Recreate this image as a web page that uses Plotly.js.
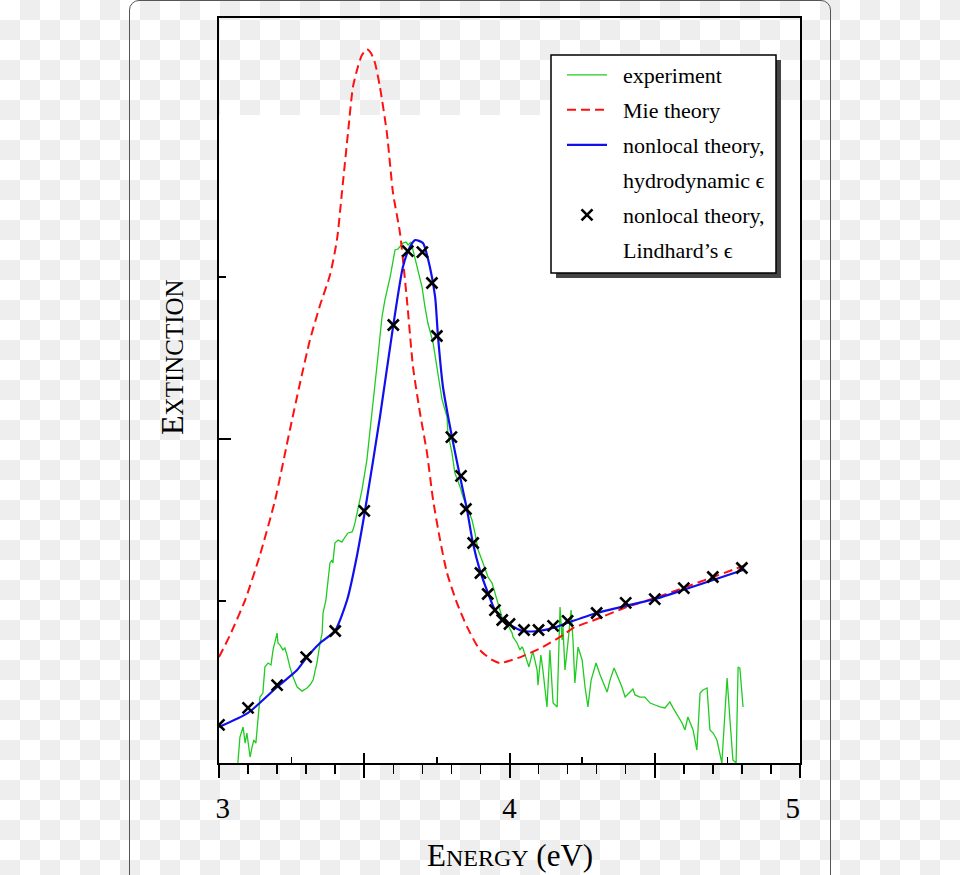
<!DOCTYPE html>
<html>
<head>
<meta charset="utf-8">
<script src="https://cdn.plot.ly/plotly-3.0.1.min.js"></script>
<style>
  html, body { margin: 0; padding: 0; }
  body {
    width: 960px; height: 875px; overflow: hidden; position: relative;
    background: repeating-conic-gradient(#eeeeee 0 25%, #ffffff 0 50%) 0 0 / 40px 40px;
  }
  #panel {
    position: absolute; left: 129px; top: 0px; width: 702px; height: 920px;
    border: 1.5px solid #555; border-radius: 10px; box-sizing: border-box;
  }
  #chart { position: absolute; left: 0; top: 0; width: 960px; height: 875px; }
</style>
</head>
<body>
<div id="panel"></div>
<div id="chart"></div>
<script>
// ---- experiment (green) ----
const expEnergy = [3.065,3.072,3.083,3.090,3.096,3.107,3.114,3.120,3.127,3.134,3.141,3.151,3.158,3.169,3.179,3.186,3.193,3.200,3.203,3.210,3.220,3.227,3.234,3.244,3.255,3.269,3.286,3.303,3.313,3.324,3.330,3.337,3.348,3.355,3.358,3.368,3.382,3.389,3.392,3.399,3.410,3.423,3.434,3.444,3.458,3.461,3.468,3.478,3.492,3.509,3.527,3.537,3.547,3.561,3.571,3.589,3.606,3.616,3.633,3.644,3.651,3.661,3.668,3.682,3.699,3.709,3.719,3.737,3.754,3.768,3.785,3.788,3.802,3.812,3.830,3.840,3.854,3.871,3.881,3.892,3.905,3.916,3.926,3.940,3.950,3.960,3.974,3.991,4.009,4.012,4.026,4.036,4.043,4.046,4.060,4.067,4.077,4.081,4.095,4.098,4.108,4.115,4.129,4.139,4.150,4.164,4.174,4.181,4.184,4.191,4.201,4.212,4.219,4.225,4.236,4.250,4.260,4.270,4.281,4.298,4.312,4.322,4.336,4.346,4.360,4.373,4.387,4.398,4.411,4.425,4.432,4.449,4.466,4.484,4.501,4.518,4.535,4.552,4.563,4.580,4.594,4.604,4.614,4.632,4.645,4.656,4.666,4.680,4.690,4.701,4.714,4.731,4.742,4.749,4.759,4.769,4.780,4.787,4.793,4.804];
const expExtinction = [0.000,0.160,0.222,0.123,0.185,0.037,0.099,0.142,0.123,0.265,0.407,0.432,0.593,0.617,0.605,0.698,0.759,0.802,0.741,0.728,0.698,0.710,0.667,0.593,0.531,0.469,0.444,0.463,0.481,0.512,0.562,0.617,0.741,0.802,0.926,1.006,1.235,1.253,1.235,1.358,1.377,1.364,1.395,1.420,1.426,1.438,1.481,1.562,1.685,1.870,2.160,2.321,2.506,2.753,2.858,3.000,3.167,3.173,3.210,3.216,3.198,3.216,3.167,3.062,2.938,2.815,2.716,2.593,2.383,2.241,2.136,2.037,1.914,1.790,1.704,1.642,1.580,1.500,1.420,1.315,1.253,1.191,1.148,1.111,1.049,0.988,0.901,0.864,0.802,0.778,0.741,0.698,0.716,0.710,0.636,0.593,0.667,0.685,0.574,0.481,0.667,0.574,0.346,0.698,0.370,0.346,0.963,0.759,0.840,0.574,0.741,0.944,0.741,0.494,0.716,0.636,0.469,0.346,0.512,0.617,0.543,0.500,0.438,0.512,0.586,0.531,0.469,0.407,0.432,0.457,0.420,0.407,0.407,0.370,0.358,0.346,0.340,0.377,0.340,0.284,0.247,0.204,0.284,0.204,0.080,0.432,0.451,0.463,0.204,0.185,0.142,0.000,0.346,0.525,0.265,0.019,0.000,0.593,0.586,0.346];

// ---- Mie theory (red dashed) ----
const mieEnergy = [3.000,3.038,3.090,3.141,3.193,3.244,3.279,3.313,3.348,3.382,3.406,3.423,3.444,3.461,3.478,3.492,3.509,3.523,3.537,3.554,3.578,3.599,3.623,3.647,3.668,3.692,3.716,3.737,3.761,3.785,3.819,3.854,3.898,3.940,3.967,4.009,4.046,4.115,4.184,4.219,4.301,4.404,4.501,4.597,4.701,4.804];
const mieExtinction = [0.654,0.790,1.006,1.284,1.623,2.056,2.346,2.611,2.827,3.012,3.228,3.519,3.889,4.173,4.296,4.370,4.407,4.383,4.321,4.173,3.889,3.519,3.272,2.858,2.444,2.160,1.914,1.623,1.377,1.173,0.988,0.840,0.698,0.636,0.617,0.636,0.660,0.716,0.790,0.833,0.889,0.963,1.019,1.080,1.148,1.216];

// ---- nonlocal theory, hydrodynamic eps (blue) ----
const hydroEnergy = [3.000,3.100,3.200,3.269,3.303,3.348,3.399,3.441,3.472,3.503,3.554,3.599,3.633,3.657,3.675,3.702,3.726,3.744,3.754,3.771,3.802,3.830,3.854,3.874,3.898,3.926,3.950,3.978,4.002,4.046,4.098,4.150,4.198,4.301,4.398,4.501,4.597,4.701,4.804];
const hydroExtinction = [0.222,0.309,0.469,0.574,0.654,0.741,0.815,1.006,1.253,1.562,2.136,2.691,3.062,3.185,3.228,3.210,3.062,2.877,2.630,2.321,2.012,1.765,1.562,1.358,1.191,1.049,0.944,0.883,0.852,0.815,0.815,0.833,0.864,0.926,0.969,1.012,1.068,1.130,1.191];

// ---- nonlocal theory, Lindhard's eps (black crosses) ----
const lindEnergy = [3.0,3.1,3.2,3.3,3.4,3.5,3.6,3.65,3.7,3.733,3.75,3.8,3.833,3.85,3.875,3.9,3.925,3.95,3.975,4.0,4.05,4.1,4.15,4.2,4.3,4.4,4.5,4.6,4.7,4.8];
const lindExtinction = [0.235,0.340,0.481,0.654,0.815,1.556,2.704,3.160,3.154,2.963,2.636,2.012,1.772,1.568,1.358,1.173,1.043,0.944,0.883,0.858,0.821,0.821,0.846,0.877,0.926,0.988,1.012,1.080,1.148,1.204];

const xTickVals = [3, 3.5, 4, 4.5, 5];
const xTickText = ['\u00a03', '', '4', '', '5\u00a0\u00a0'];
const xTitle = 'E<span style="font-size:24px">NERGY</span> (eV)';
const yTitle = 'E<span style="font-size:25px">XTINCTION</span>';
// legend labels (each printed line is its own legend row)
const legendRows = ['experiment', 'Mie theory', 'nonlocal theory,', 'hydrodynamic ϵ', 'nonlocal theory,', 'Lindhard’s ϵ'];

const FONT = 'Liberation Serif, Times New Roman, serif';
const PAD = '\u00a0\u00a0';

const traces = [
  {x: expEnergy, y: expExtinction, type: 'scatter', mode: 'lines', name: PAD + legendRows[0],
   legendgroup: 'g1', line: {color: '#1fcc1f', width: 1.3}},
  {x: mieEnergy, y: mieExtinction, type: 'scatter', mode: 'lines', name: PAD + legendRows[1],
   legendgroup: 'g2', line: {color: '#ff1010', width: 2, dash: '9px,5px', shape: 'spline', smoothing: 0.6}},
  {x: hydroEnergy, y: hydroExtinction, type: 'scatter', mode: 'lines', name: PAD + legendRows[2],
   legendgroup: 'g3', line: {color: '#1010ee', width: 2.2, shape: 'spline', smoothing: 0.6}},
  {x: [null], y: [null], type: 'scatter', mode: 'lines', name: PAD + legendRows[3], hoverinfo: 'skip',
   legendgroup: 'g4', line: {color: 'rgba(0,0,0,0)', width: 0}},
  {x: lindEnergy, y: lindExtinction, type: 'scatter', mode: 'markers', name: PAD + legendRows[4],
   legendgroup: 'g5', xaxis: 'x2', yaxis: 'y',
   marker: {symbol: 'x-thin', size: 11, color: '#000', line: {color: '#000', width: 2.6}}},
  {x: [null], y: [null], type: 'scatter', mode: 'lines', name: PAD + legendRows[5], hoverinfo: 'skip',
   legendgroup: 'g6', line: {color: 'rgba(0,0,0,0)', width: 0}}
];

const layout = {
  width: 960, height: 875,
  margin: {l: 219, r: 160, t: 18, b: 112, pad: 0},
  paper_bgcolor: 'rgba(0,0,0,0)',
  plot_bgcolor: 'rgba(0,0,0,0)',
  font: {family: FONT, color: '#000', size: 22},
  showlegend: true,
  xaxis: {
    range: [3, 5], showgrid: false, zeroline: false,
    showline: true, linecolor: '#000', linewidth: 2, mirror: true,
    ticks: 'outside', tickvals: xTickVals, ticktext: xTickText,
    ticklen: 13, tickwidth: 2, tickcolor: '#000',
    tickfont: {family: FONT, size: 29, color: '#000'},
    ticklabelstandoff: 5,
    minor: {tickmode: 'linear', tick0: 3, dtick: 0.1, ticks: 'outside', ticklen: 9, tickwidth: 1.5, tickcolor: '#000', showgrid: false}
  },
  xaxis2: {
    range: [3, 5], overlaying: 'x', anchor: 'y', side: 'bottom',
    showgrid: false, zeroline: false, showline: false, showticklabels: false,
    ticks: 'inside', tickvals: xTickVals, ticklen: 10, tickwidth: 2, tickcolor: '#000',
    minor: {tickvals: [3.25, 3.75, 4.25, 4.75], ticks: 'inside', ticklen: 6, tickwidth: 1.5, tickcolor: '#000', showgrid: false}
  },
  yaxis: {
    range: [0, 4.599], showgrid: false, zeroline: false,
    showline: true, linecolor: '#000', linewidth: 2, mirror: true,
    ticks: 'inside', tickvals: [0, 2], ticklen: 12, tickwidth: 1.5, tickcolor: '#000',
    showticklabels: false,
    minor: {tickvals: [1, 3], ticks: 'inside', ticklen: 7, tickwidth: 1.5, tickcolor: '#000', showgrid: false}
  },
  legend: {
    x: (562 - 219) / 581, y: (763 - 54) / 745, xanchor: 'left', yanchor: 'top',
    bgcolor: 'rgba(0,0,0,0)', borderwidth: 0,
    font: {family: FONT, size: 22, color: '#000'},
    itemwidth: 40, tracegroupgap: 3.4
  },
  shapes: [
    // white plotting area (below the top strip)
    {type: 'rect', xref: 'paper', yref: 'y', x0: 0, x1: 1, y0: 0, y1: 4,
     fillcolor: '#ffffff', line: {width: 0}, layer: 'below'},
    // legend shadow
    {type: 'rect', xref: 'paper', yref: 'paper',
     x0: (556 - 219) / 581, x1: (781 - 219) / 581, y0: (763 - 278) / 745, y1: (763 - 60) / 745,
     fillcolor: '#444444', line: {width: 0}, layer: 'above'},
    // legend box
    {type: 'rect', xref: 'paper', yref: 'paper',
     x0: (551 - 219) / 581, x1: (776 - 219) / 581, y0: (763 - 273) / 745, y1: (763 - 55) / 745,
     fillcolor: '#ffffff', line: {width: 1.5, color: '#000'}, layer: 'above'}
  ],
  annotations: [
    {text: xTitle, xref: 'paper', yref: 'paper', x: 0.5, y: -0.1235, xanchor: 'center', yanchor: 'middle',
     showarrow: false, font: {family: FONT, size: 31, color: '#000'}},
    {text: yTitle, xref: 'paper', yref: 'paper', x: -0.0809, y: 0.545, xanchor: 'center', yanchor: 'middle',
     textangle: -90, showarrow: false, font: {family: FONT, size: 32, color: '#000'}}
  ]
};

Plotly.newPlot('chart', traces, layout, {displayModeBar: false, staticPlot: true});
</script>
</body>
</html>
